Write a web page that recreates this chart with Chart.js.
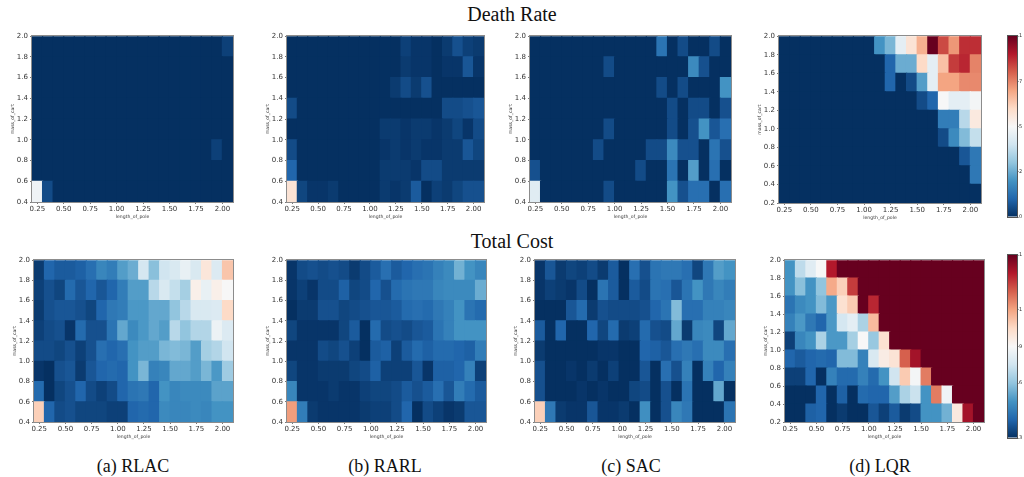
<!DOCTYPE html>
<html><head><meta charset="utf-8">
<script src="https://cdn.jsdelivr.net/npm/chart.js@4.4.0/dist/chart.umd.min.js"></script>
<style>
html,body{margin:0;padding:0;background:#fff;width:1024px;height:477px;overflow:hidden;position:relative}
canvas{position:absolute}
.t{position:absolute;font-family:"Liberation Serif","Times New Roman",serif;color:#111;white-space:nowrap;transform:translate(-50%,-50%);line-height:1}
</style></head><body>
<div class="t" style="left:512px;top:14px;font-size:20px">Death Rate</div>
<div class="t" style="left:512px;top:241px;font-size:20px">Total Cost</div>
<div class="t" style="left:133px;top:466px;font-size:18px">(a) RLAC</div>
<div class="t" style="left:385px;top:466px;font-size:18px">(b) RARL</div>
<div class="t" style="left:631px;top:466px;font-size:18px">(c) SAC</div>
<div class="t" style="left:880px;top:466px;font-size:18px">(d) LQR</div>
<script>
// ---------- data ----------
const poleLength = [0.25,0.35,0.45,0.55,0.65,0.75,0.85,0.95,1.05,1.15,1.25,1.35,1.45,1.55,1.65,1.75,1.85,1.95,2.05];
const massEdges = [2.0,1.8,1.6,1.4,1.2,1.0,0.8,0.6,0.4];
const massEdgesLQR = [2.0,1.8,1.6,1.4,1.2,1.0,0.8,0.6,0.4,0.2];
const xTickVals = [0.25,0.50,0.75,1.00,1.25,1.50,1.75,2.00];
const yTickVals = [0.4,0.6,0.8,1.0,1.2,1.4,1.6,1.8,2.0];
const yTickValsLQR = [0.2,0.4,0.6,0.8,1.0,1.2,1.4,1.6,1.8,2.0];
const cbDeathTicks = [0,0.25,0.5,0.75,1];
const cbDeathLabels = ['0','2','5','7','1'];
const cbCostTicks = [0,0.3,0.5,0.7,1];
const cbCostLabels = ['3','6','9','1','1'];

// rows listed top (mass 1.8-2.0) to bottom; values are colour levels 0..1
const deathRLAC = [
[0,0,0,0,0,0,0,0,0,0,0,0,0,0,0,0,0,0,0.03],
[0,0,0,0,0,0,0,0,0,0,0,0,0,0,0,0,0,0,0],
[0,0,0,0,0,0,0,0,0,0,0,0,0,0,0,0,0,0,0],
[0,0,0,0,0,0,0,0,0,0,0,0,0,0,0,0,0,0,0],
[0,0,0,0,0,0,0,0,0,0,0,0,0,0,0,0,0,0,0],
[0,0,0,0,0,0,0,0,0,0,0,0,0,0,0,0,0,0.03,0],
[0,0,0,0,0,0,0,0,0,0,0,0,0,0,0,0,0,0,0],
[0.48,0.05,0,0,0,0,0,0,0,0,0,0,0,0,0,0,0,0,0]];
const deathRARL = [
[0,0,0,0,0,0,0,0,0,0,0,0.03,0.01,0.01,0,0.02,0.06,0.03,0.02],
[0,0,0,0,0,0,0,0,0,0,0,0.02,0.01,0.01,0,0.01,0.01,0.07,0.01],
[0,0,0,0,0,0,0,0,0,0,0.02,0.05,0.02,0.06,0,0,0,0,0],
[0.05,0,0,0,0,0,0,0,0,0,0,0,0,0,0,0.05,0.05,0.06,0.07],
[0,0,0,0,0,0,0,0,0,0.02,0.02,0.01,0.02,0.02,0.01,0.02,0.04,0.01,0.05],
[0.05,0,0,0,0,0,0,0,0,0.01,0.02,0.01,0.02,0.01,0.01,0.02,0.02,0.07,0.04],
[0.1,0,0,0,0,0,0,0,0,0.02,0.02,0.02,0.01,0.05,0.05,0.02,0.02,0.02,0.02],
[0.57,0.04,0.01,0.01,0.02,0,0,0,0,0.02,0.01,0.02,0.08,0,0.03,0.02,0.04,0.06,0.06]];
const deathSAC = [
[0,0,0,0,0,0,0,0,0,0,0,0,0.13,0,0.05,0,0,0.05,0],
[0,0,0,0,0,0,0,0.05,0,0,0,0,0,0,0,0.18,0.06,0,0],
[0,0,0,0,0,0,0,0,0,0,0,0,0.05,0,0.05,0,0,0,0.2],
[0,0,0,0,0,0,0,0,0,0,0,0,0,0.05,0,0.05,0.05,0,0.06],
[0,0,0,0,0,0,0,0.05,0,0,0,0,0,0.05,0,0.06,0.2,0.07,0.12],
[0,0,0,0,0,0,0.05,0,0,0,0,0.05,0.05,0.18,0.06,0.06,0,0.13,0.06],
[0.06,0,0,0,0,0,0,0,0,0,0.05,0,0,0.13,0,0.22,0,0.12,0],
[0.44,0,0,0,0,0,0,0.05,0,0,0,0,0,0.2,0.06,0.12,0.12,0,0.12]];
const deathLQR = [
[0,0,0,0,0,0,0,0,0,0.2,0.27,0.45,0.57,0.68,1.0,0.83,0.72,0.87,0.87],
[0,0,0,0,0,0,0,0,0,0,0.1,0.25,0.25,0.6,0.45,0.65,0.85,0.88,0.75],
[0,0,0,0,0,0,0,0,0,0,0.1,0,0.05,0.22,0.45,0.7,0.7,0.74,0.74],
[0,0,0,0,0,0,0,0,0,0,0,0,0,0.05,0.1,0.5,0.45,0.45,0.49],
[0,0,0,0,0,0,0,0,0,0,0,0,0,0,0,0.15,0.15,0.36,0.55],
[0,0,0,0,0,0,0,0,0,0,0,0,0,0,0,0.05,0.18,0.28,0.38],
[0,0,0,0,0,0,0,0,0,0,0,0,0,0,0,0,0,0.07,0.14],
[0,0,0,0,0,0,0,0,0,0,0,0,0,0,0,0,0,0,0.14],
[0,0,0,0,0,0,0,0,0,0,0,0,0,0,0,0,0,0,0]];
const costRLAC = [
[0.02,0.10,0.08,0.08,0.09,0.12,0.17,0.15,0.22,0.25,0.41,0.29,0.40,0.42,0.46,0.42,0.56,0.43,0.64],
[0.03,0.06,0.04,0.11,0.07,0.10,0.07,0.10,0.15,0.22,0.22,0.36,0.42,0.38,0.33,0.53,0.46,0.53,0.50],
[0.02,0.06,0.07,0.07,0.06,0.04,0.10,0.14,0.15,0.21,0.21,0.24,0.24,0.30,0.36,0.42,0.42,0.43,0.60],
[0.03,0.05,0.06,0.01,0.11,0.06,0.06,0.13,0.24,0.18,0.21,0.24,0.22,0.36,0.30,0.35,0.35,0.47,0.43],
[0.05,0.05,0.04,0.06,0.03,0.06,0.12,0.10,0.12,0.20,0.22,0.22,0.27,0.28,0.27,0.22,0.33,0.35,0.40],
[0.01,0.00,0.06,0.07,0.02,0.07,0.10,0.11,0.10,0.20,0.27,0.16,0.17,0.24,0.24,0.22,0.27,0.21,0.32],
[0.11,0.00,0.04,0.06,0.10,0.05,0.03,0.05,0.10,0.13,0.14,0.10,0.20,0.17,0.18,0.18,0.18,0.23,0.23],
[0.62,0.10,0.05,0.06,0.04,0.04,0.04,0.03,0.03,0.10,0.11,0.10,0.18,0.17,0.17,0.18,0.17,0.20,0.20]];
const costRARL = [
[0.01,0.05,0.06,0.05,0.06,0.05,0.02,0.05,0.08,0.12,0.08,0.10,0.12,0.13,0.16,0.18,0.26,0.20,0.17],
[0.01,0.03,0.01,0.05,0.05,0.09,0.04,0.05,0.10,0.06,0.11,0.13,0.14,0.14,0.17,0.18,0.18,0.18,0.25],
[0.00,0.02,0.02,0.06,0.06,0.04,0.05,0.06,0.07,0.07,0.08,0.11,0.12,0.11,0.14,0.16,0.20,0.13,0.11],
[0.04,0.01,0.01,0.01,0.01,0.04,0.08,0.00,0.11,0.05,0.06,0.05,0.07,0.08,0.13,0.16,0.20,0.20,0.20],
[0.01,0.01,0.01,0.05,0.04,0.06,0.03,0.00,0.08,0.09,0.03,0.08,0.11,0.09,0.11,0.11,0.10,0.09,0.15],
[0.04,0.01,0.01,0.02,0.02,0.02,0.04,0.05,0.09,0.03,0.03,0.03,0.07,0.01,0.09,0.09,0.10,0.16,0.03],
[0.17,0.01,0.01,0.01,0.02,0.01,0.01,0.03,0.04,0.04,0.05,0.08,0.06,0.08,0.12,0.07,0.15,0.11,0.08],
[0.71,0.15,0.02,0.01,0.01,0.01,0.01,0.02,0.03,0.03,0.05,0.10,0.00,0.05,0.03,0.01,0.02,0.07,0.07]];
const costSAC = [
[0.01,0.07,0.02,0.04,0.03,0.05,0.02,0.08,0.00,0.12,0.06,0.13,0.14,0.14,0.12,0.04,0.14,0.22,0.20],
[0.01,0.03,0.02,0.01,0.05,0.00,0.13,0.08,0.00,0.08,0.05,0.13,0.12,0.07,0.13,0.20,0.14,0.17,0.15],
[0.00,0.00,0.00,0.07,0.11,0.02,0.06,0.05,0.05,0.05,0.06,0.10,0.13,0.28,0.12,0.12,0.16,0.16,0.17],
[0.08,0.00,0.10,0.00,0.00,0.10,0.04,0.11,0.02,0.03,0.11,0.06,0.05,0.24,0.02,0.17,0.18,0.04,0.24],
[0.02,0.00,0.00,0.00,0.00,0.00,0.01,0.01,0.00,0.00,0.10,0.09,0.07,0.12,0.14,0.12,0.18,0.18,0.12],
[0.06,0.00,0.00,0.01,0.00,0.02,0.00,0.03,0.00,0.00,0.07,0.00,0.12,0.06,0.16,0.00,0.16,0.10,0.16],
[0.06,0.00,0.00,0.00,0.01,0.00,0.01,0.00,0.00,0.04,0.05,0.00,0.06,0.00,0.13,0.00,0.00,0.24,0.00],
[0.62,0.14,0.02,0.01,0.01,0.07,0.01,0.01,0.02,0.00,0.19,0.00,0.06,0.17,0.14,0.00,0.00,0.00,0.13]];
const costLQR = [
[0.20,0.37,0.44,0.50,0.90,1,1,1,1,1,1,1,1,1,1,1,1,1,1],
[0.20,0.29,0.20,0.30,0.69,0.62,0.85,1,1,1,1,1,1,1,1,1,1,1,1],
[0.13,0.18,0.20,0.28,0.21,0.58,0.63,1,0.88,1,1,1,1,1,1,1,1,1,1],
[0.16,0.21,0.14,0.10,0.21,0.41,0.45,0.34,0.66,1,1,1,1,1,1,1,1,1,1],
[0.03,0.17,0.20,0.34,0.21,0.21,0.33,0.50,0.31,0.58,1,1,1,1,1,1,1,1,1],
[0.10,0.08,0.10,0.11,0.10,0.28,0.28,0.16,0.42,0.54,0.57,0.80,0.92,1,1,1,1,1,1],
[0.03,0.03,0.10,0.00,0.16,0.11,0.11,0.16,0.11,0.20,0.40,0.63,0.49,0.76,1,1,1,1,1],
[0.00,0.00,0.00,0.10,0.00,0.09,0.00,0.11,0.10,0.10,0.22,0.34,0.39,0.20,0.76,0.48,1,1,1],
[0.00,0.00,0.09,0.10,0.00,0.02,0.00,0.00,0.07,0.03,0.08,0.02,0.05,0.20,0.20,0.26,0.55,0.92,1]];

// ---------- colour map (RdBu_r) ----------
const RDBU_R = ['#053061','#2166ac','#4393c3','#92c5de','#d1e5f0','#f7f7f7','#fddbc7','#f4a582','#d6604d','#b2182b','#67001f'];
const RGB = RDBU_R.map(h => [parseInt(h.slice(1,3),16),parseInt(h.slice(3,5),16),parseInt(h.slice(5,7),16)]);
function cmap(v){
  v = Math.max(0, Math.min(1, v));
  const p = v*10, i = Math.min(9, Math.floor(p)), f = p - i;
  const a = RGB[i], b = RGB[i+1];
  return 'rgb(' + [0,1,2].map(k => Math.round(a[k] + (b[k]-a[k])*f)).join(',') + ')';
}

const framePlugin = {
  id: 'frame',
  afterDraw(chart, args, opts) {
    const a = chart.chartArea, c = chart.ctx;
    c.save();
    c.strokeStyle = opts.color || '#8c8c8c';
    c.lineWidth = 1;
    c.strokeRect(Math.round(a.left)-0.5, Math.round(a.top)-0.5, Math.round(a.right-a.left)+1, Math.round(a.bottom-a.top)+1);
    c.restore();
  }
};

const TICKFONT = {family: 'DejaVu Sans', size: 7};
const TITLEFONT = {family: 'DejaVu Sans', size: 4.6};

function heatmap(rect, grid, edges, yTicks) {
  const YW = 30, PT = 6, PR = 6, XH = 22;
  const cv = document.createElement('canvas');
  const w = (rect[1]-rect[0]) + YW + PR, h = (rect[3]-rect[2]) + PT + XH;
  cv.width = w; cv.height = h;
  cv.style.left = (rect[0]-YW) + 'px'; cv.style.top = (rect[2]-PT) + 'px';
  document.body.appendChild(cv);
  const cells = [];
  grid.forEach((row, i) => row.forEach((v, j) => cells.push({x: poleLength[j], y: [edges[i+1], edges[i]], v: v})));
  new Chart(cv, {
    type: 'bar',
    data: {datasets: [{data: cells, backgroundColor: c => cmap(c.raw ? c.raw.v : 0), borderWidth: 0,
      barPercentage: 1, categoryPercentage: 1, inflateAmount: 0.6}]},
    plugins: [framePlugin],
    options: {
      responsive: false, animation: false, devicePixelRatio: 1,
      layout: {padding: {left: 0, top: PT, right: PR, bottom: 0}},
      plugins: {legend: {display: false}, tooltip: {enabled: false}, frame: {color: '#8c8c8c'}},
      scales: {
        x: {type: 'linear', min: 0.2, max: 2.1, offset: false,
          grid: {display: true, drawOnChartArea: false, drawTicks: true, tickLength: 2, color: '#777', offset: false},
          border: {display: false},
          ticks: {font: TICKFONT, color: '#333', padding: 1, maxRotation: 0, autoSkip: false,
            callback: v => Number(v).toFixed(2)},
          afterBuildTicks: s => { s.ticks = xTickVals.map(v => ({value: v})); },
          afterFit: s => { s.height = XH; },
          title: {display: true, text: 'length_of_pole', font: TITLEFONT, color: '#333', padding: {top: 0, bottom: 4}}},
        y: {type: 'linear', min: edges[edges.length-1], max: edges[0],
          grid: {display: true, drawOnChartArea: false, drawTicks: true, tickLength: 2, color: '#777'},
          border: {display: false},
          ticks: {font: TICKFONT, color: '#333', padding: 2, autoSkip: false,
            callback: v => Number(v).toFixed(1)},
          afterBuildTicks: s => { s.ticks = yTicks.map(v => ({value: v})); },
          afterFit: s => { s.width = YW; },
          title: {display: true, text: 'mass_of_cart', font: TITLEFONT, color: '#333', padding: {top: 8.5, bottom: 0}}}
      }
    }
  });
}

function colorbar(top, bottom, ticks, labels) {
  const cv = document.createElement('canvas');
  cv.width = 24; cv.height = (bottom-top) + 8;
  cv.style.left = '1000px'; cv.style.top = (top-4) + 'px';
  document.body.appendChild(cv);
  new Chart(cv, {
    type: 'bar',
    data: {labels: ['cb'], datasets: [{data: [[0, 1]], borderWidth: 0, barPercentage: 1, categoryPercentage: 1,
      inflateAmount: 0,
      backgroundColor: c => {
        const a = c.chart.chartArea;
        if (!a) return RDBU_R[0];
        const g = c.chart.ctx.createLinearGradient(0, a.bottom, 0, a.top);
        RDBU_R.forEach((col, i) => g.addColorStop(i/10, col));
        return g;
      }}]},
    plugins: [framePlugin],
    options: {
      responsive: false, animation: false, devicePixelRatio: 1,
      layout: {padding: {left: 8, top: 4, right: 0, bottom: 4}},
      plugins: {legend: {display: false}, tooltip: {enabled: false}, frame: {color: '#555'}},
      scales: {
        x: {type: 'category', display: false, offset: true},
        y: {type: 'linear', position: 'right', min: 0, max: 1,
          grid: {display: true, drawOnChartArea: false, drawTicks: true, tickLength: 1.5, color: '#555'},
          border: {display: false},
          ticks: {font: {family: 'DejaVu Sans', size: 5}, color: '#333', padding: 0.5, autoSkip: false,
            callback: (v, i) => labels[i]},
          afterBuildTicks: s => { s.ticks = ticks.map(v => ({value: v})); },
          afterFit: s => { s.width = 7; }}
      }
    }
  });
}

// top row: death rate
heatmap([32, 233, 36, 202], deathRLAC, massEdges, yTickVals);
heatmap([287, 484, 36, 202], deathRARL, massEdges, yTickVals);
heatmap([530, 731, 36, 202], deathSAC, massEdges, yTickVals);
heatmap([779, 981, 36, 203], deathLQR, massEdgesLQR, yTickValsLQR);
colorbar(36, 217, cbDeathTicks, cbDeathLabels);
// bottom row: total cost
heatmap([34, 233, 260, 422], costRLAC, massEdges, yTickVals);
heatmap([287, 486, 260, 422], costRARL, massEdges, yTickVals);
heatmap([535, 735, 260, 422], costSAC, massEdges, yTickVals);
heatmap([785, 984, 260, 422], costLQR, massEdgesLQR, yTickValsLQR);
colorbar(255, 438, cbCostTicks, cbCostLabels);
</script>
</body></html>
